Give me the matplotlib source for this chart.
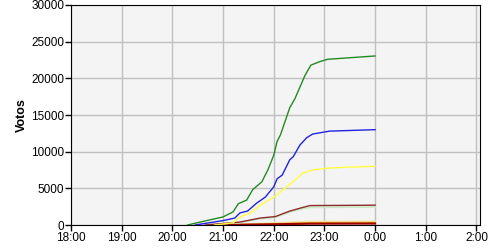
import matplotlib
matplotlib.use("Agg")
import matplotlib.pyplot as plt


def hours(labels):
    # hours elapsed since 18:00, times after midnight roll over
    out = []
    for t in labels:
        hh, mm = map(int, t.split(":"))
        if hh < 12:
            hh += 24
        out.append(hh - 18 + mm / 60)
    return out


# series (time, votes)
green_t = ["20:18", "20:33", "21:00", "21:12", "21:18", "21:20", "21:28", "21:35",
           "21:46", "21:53", "22:00", "22:04", "22:08", "22:19", "22:25", "22:31",
           "22:37", "22:44", "22:55", "23:04", "0:00"]
green_v = [0, 400, 1100, 1800, 2900, 3000, 3400, 4800, 5900, 7500, 9500, 11400,
           12300, 16000, 17200, 18800, 20400, 21800, 22300, 22600, 23050]

blue_t = ["20:27", "21:00", "21:14", "21:20", "21:29", "21:40", "21:50", "22:00",
          "22:04", "22:10", "22:19", "22:23", "22:31", "22:39", "22:46", "23:06", "0:00"]
blue_v = [0, 600, 950, 1650, 1900, 3000, 3800, 5200, 6300, 6800, 8900, 9300,
          10900, 11900, 12400, 12800, 13000]

yellow_t = ["20:50", "21:12", "21:20", "21:32", "21:44", "22:00", "22:11", "22:23",
            "22:35", "22:46", "23:03", "23:30", "0:00"]
yellow_v = [0, 300, 1100, 1600, 2700, 3800, 4800, 5900, 7100, 7500, 7750, 7900, 8000]

brown_t = ["20:39", "21:20", "21:44", "22:02", "22:19", "22:33", "22:43", "0:00"]
brown_v = [0, 400, 950, 1150, 1900, 2350, 2650, 2700]

pale_green_t = ["20:39", "21:20", "21:44", "22:02", "22:19", "22:33", "22:43", "0:00"]
pale_green_v = [0, 350, 850, 1050, 1750, 2200, 2400, 2450]

pale_yellow_t = ["20:40", "21:30", "22:00", "22:30", "22:45", "0:00"]
pale_yellow_v = [0, 100, 250, 400, 450, 480]

orange_t = ["21:00", "22:00", "22:45", "0:00"]
orange_v = [0, 150, 300, 320]

darkred_t = ["21:00", "22:00", "22:45", "0:00"]
darkred_v = [0, 100, 180, 200]

tick_labels = ["18:00", "19:00", "20:00", "21:00", "22:00", "23:00", "0:00", "1:00", "2:00"]

plt.rcParams["font.family"] = ["Liberation Sans", "DejaVu Sans"]

fig = plt.figure(figsize=(5, 2.5), dpi=100)
ax = fig.add_axes([0.142, 0.1, 0.818, 0.88])
ax.set_facecolor("#f4f4f4")

series = [
    (pale_yellow_t, pale_yellow_v, "#f5e6a8", 1.5),
    (orange_t, orange_v, "#e0a020", 1.2),
    (darkred_t, darkred_v, "#a00000", 1.5),
    (pale_green_t, pale_green_v, "#cce8c4", 1.2),
    (brown_t, brown_v, "#8b2c2c", 1.0),
    (yellow_t, yellow_v, "#ffff40", 1.0),
    (blue_t, blue_v, "#2222dd", 1.0),
    (green_t, green_v, "#228b22", 1.0),
]
for t, v, c, lw in series:
    ax.plot(hours(t), v, color=c, lw=lw)

ax.set_xlim(0, 8.07)
ax.set_ylim(0, 30000)
ax.set_xticks(range(len(tick_labels)))
ax.set_xticklabels(tick_labels)
ax.set_yticks(range(0, 30001, 5000))
ax.grid(True, color="#c0c0c0", lw=1)
ax.set_axisbelow(True)
ax.tick_params(labelsize=8.5, length=4, width=1, pad=1)
for s in ax.spines.values():
    s.set_color("black")
ax.set_ylabel("Votos", fontsize=9, fontweight="bold")
ax.yaxis.set_label_coords(-0.105, 0.5)

fig.savefig("out.png", dpi=100)
